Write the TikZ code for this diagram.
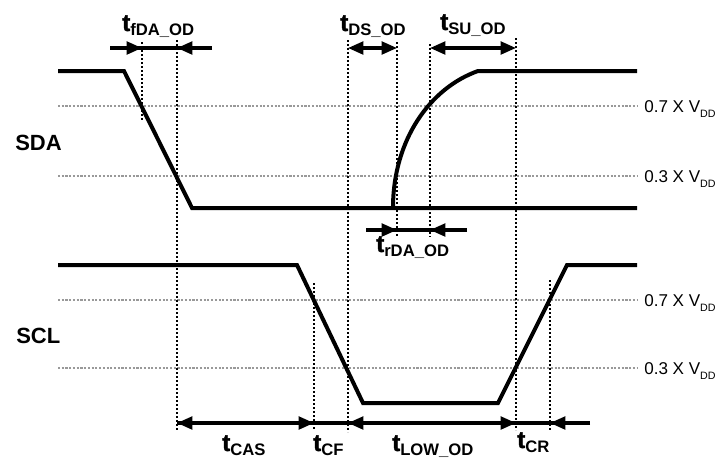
\documentclass[tikz,border=0pt]{standalone}
\usepackage{fontspec}
\setmainfont{Liberation Sans}
\newfontfamily\tfont{Liberation Sans Bold}[FakeBold=1.6]
\usetikzlibrary{arrows.meta}
\begin{document}
\begin{tikzpicture}[x=0.75pt,y=-0.75pt,
  sig/.style={line width=3pt, line join=miter},
  refline/.style={gray!80, line width=0.9pt, dash pattern=on 1.6pt off 1.2pt},
  vline/.style={black, line width=1.2pt, dash pattern=on 1.8pt off 1.2pt},
  dimline/.style={line width=2.3pt},
  tipped/.style={dimline, -{Triangle[length=11.5pt,width=9.5pt]}},
  both/.style={dimline, {Triangle[length=11.5pt,width=9.5pt]}-{Triangle[length=11.5pt,width=9.5pt]}},
  big/.style={font=\bfseries\fontsize{16.5}{18}\selectfont, inner sep=0pt},
  volt/.style={font=\fontsize{12.8}{14}\selectfont, inner sep=0pt, anchor=base west},
  tlab/.style={inner sep=0pt, anchor=base west}
]
\newcommand{\tl}[1]{{\tfont\fontsize{18}{20}\selectfont t}\raisebox{-0.3em}{\textbf{\fontsize{12.5}{13}\selectfont #1}}}
\newcommand{\vdd}[1]{#1 X V\raisebox{-0.3em}{\fontsize{8}{9}\selectfont DD}}
\useasboundingbox (0,0) rectangle (718,461);

% reference levels
\coordinate (r1a) at (58,106);  \coordinate (r1b) at (637,106);
\coordinate (r2a) at (58,176);  \coordinate (r2b) at (637,176);
\coordinate (r3a) at (58,300);  \coordinate (r3b) at (637,300);
\coordinate (r4a) at (58,368);  \coordinate (r4b) at (637,368);
\draw[refline] (r1a) -- (r1b);
\draw[refline] (r2a) -- (r2b);
\draw[refline] (r3a) -- (r3b);
\draw[refline] (r4a) -- (r4b);

% vertical markers
\coordinate (v1t) at (142,42);  \coordinate (v1b) at (142,120);
\coordinate (v2t) at (177,40);  \coordinate (v2b) at (177,430);
\coordinate (v3t) at (348,40);  \coordinate (v3b) at (348,432);
\coordinate (v4t) at (397,42);  \coordinate (v4b) at (397,237);
\coordinate (v5t) at (430,44);  \coordinate (v5b) at (430,237);
\coordinate (v6t) at (516,38);  \coordinate (v6b) at (516,430);
\coordinate (v7t) at (314,283); \coordinate (v7b) at (314,430);
\coordinate (v8t) at (550,280); \coordinate (v8b) at (550,430);
\foreach \i in {1,...,8} {\draw[vline] (v\i t) -- (v\i b);}

% SDA waveform
\coordinate (sa0) at (58,71);   \coordinate (sa1) at (124,71);
\coordinate (sa2) at (192,208); \coordinate (sa3) at (637,208);
\coordinate (sr0) at (393,208); \coordinate (sr1) at (478,71);
\coordinate (sr2) at (637,71);
\draw[sig] (sa0) -- (sa1) -- (sa2) -- (sa3);
\draw[sig] (sr0) .. controls (393,140) and (430,88) .. (sr1) -- (sr2);

% SCL waveform
\coordinate (sc0) at (58,265);  \coordinate (sc1) at (297,265);
\coordinate (sc2) at (363,403); \coordinate (sc3) at (498,403);
\coordinate (sc4) at (567,265); \coordinate (sc5) at (637,265);
\draw[sig] (sc0) -- (sc1) -- (sc2) -- (sc3) -- (sc4) -- (sc5);

% top dimension arrows
\coordinate (fa) at (110,48); \coordinate (fb) at (142,48);
\coordinate (fc) at (177,48); \coordinate (fd) at (212,48);
\draw[dimline] (fa) -- (fd);
\draw[tipped] (fa) -- (fb);
\draw[tipped] (fd) -- (fc);
\coordinate (da) at (348,48); \coordinate (db) at (397,48);
\draw[both] (da) -- (db);
\coordinate (ua) at (430,48); \coordinate (ub) at (516,48);
\draw[both] (ua) -- (ub);

% rDA arrows
\coordinate (ra) at (366,230); \coordinate (rb) at (397,230);
\coordinate (rc) at (430,230); \coordinate (rd) at (467,230);
\draw[dimline] (ra) -- (rd);
\draw[tipped] (ra) -- (rb);
\draw[tipped] (rd) -- (rc);

% bottom arrows
\coordinate (ba) at (177,423); \coordinate (bb) at (314,423);
\coordinate (bc) at (348,423); \coordinate (bd) at (516,423);
\coordinate (be) at (550,423); \coordinate (bf) at (590,423);
\draw[dimline] (ba) -- (bf);
\draw[both] (ba) -- (bb);
\draw[both] (bc) -- (bd);
\draw[tipped] (bf) -- (be);

% labels
\node[big, anchor=base west] (sda) at (15,150) {SDA};
\node[big, anchor=base west] (scl) at (16,343) {SCL};
\node[volt] (v07a) at (644,112) {\vdd{0.7}};
\node[volt] (v03a) at (644,182) {\vdd{0.3}};
\node[volt] (v07b) at (644,306) {\vdd{0.7}};
\node[volt] (v03b) at (644,374) {\vdd{0.3}};

\node[tlab] (lf) at (122,31) {\tl{fDA\_OD}};
\node[tlab] (ld) at (340,31) {\tl{DS\_OD}};
\node[tlab] (lu) at (440,30) {\tl{SU\_OD}};
\node[tlab] (lr) at (376,252) {\tl{rDA\_OD}};
\node[tlab] (lca) at (222,451) {\tl{CAS}};
\node[tlab] (lcf) at (313,451) {\tl{CF}};
\node[tlab] (llo) at (392,451) {\tl{LOW\_OD}};
\node[tlab] (lcr) at (517,448) {\tl{CR}};
\end{tikzpicture}
\end{document}
